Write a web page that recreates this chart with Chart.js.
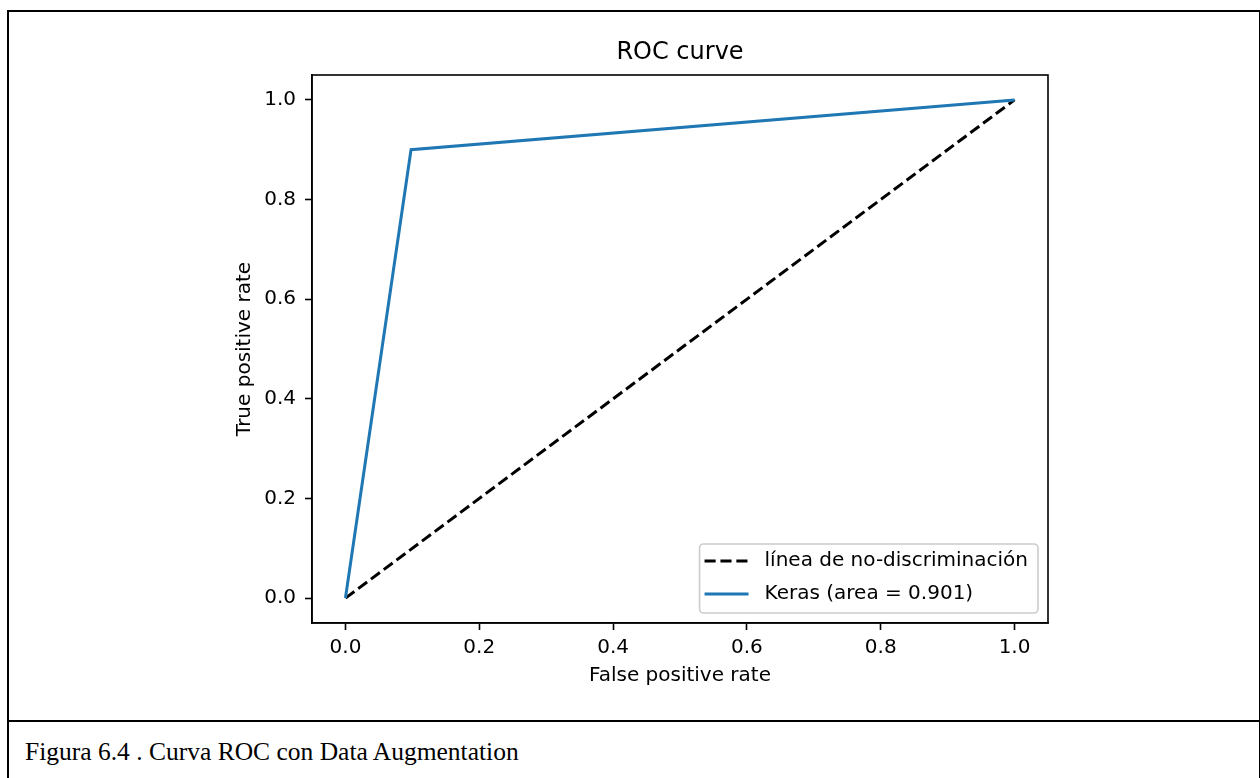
<!DOCTYPE html>
<html>
<head>
<meta charset="utf-8">
<script src="https://cdn.jsdelivr.net/npm/chart.js@4.4.0/dist/chart.umd.min.js"></script>
<style>
  body { margin: 0; background: #fff; width: 1260px; height: 778px; overflow: hidden; position: relative; }
  #frame { position: absolute; left: 7px; top: 10px; width: 1250px; height: 780px; border: 2px solid #000; border-bottom: none; }
  #divider { position: absolute; left: 7px; top: 720px; width: 1253px; height: 2px; background: #000; }
  #caption { position: absolute; left: 25px; top: 738.6px; font: 25.5px/25.5px "Liberation Serif", "Times New Roman", serif; color: #000; white-space: nowrap; }
  #myChart { position: absolute; left: 0; top: 0; }
</style>
</head>
<body>
<div id="frame"></div>
<div id="divider"></div>
<canvas id="myChart" width="1260" height="718"></canvas>
<div id="caption">Figura 6.4 . Curva ROC con Data Augmentation</div>
<script>
// datos de la curva ROC
var diag_fpr = [0, 1];
var diag_tpr = [0, 1];
var keras_fpr = [0, 0.098, 1];
var keras_tpr = [0, 0.9, 1];
var x_ticks = [0, 0.2, 0.4, 0.6, 0.8, 1.0];
var y_ticks = [0, 0.2, 0.4, 0.6, 0.8, 1.0];
var diag_label = "línea de no-discriminación";
var keras_label = "Keras (area = 0.901)";

function to_points(xs, ys) {
  return xs.map((x, i) => ({x: x, y: ys[i]}));
}

const FONT = '"DejaVu Sans", sans-serif';

// marco de los ejes + leyenda estilo matplotlib
const mplExtras = {
  id: 'mplExtras',
  afterDraw(chart) {
    const ctx = chart.ctx;
    const a = chart.chartArea;
    ctx.save();
    ctx.strokeStyle = '#000';
    ctx.lineWidth = 1.6;
    ctx.strokeRect(a.left, a.top, a.right - a.left, a.bottom - a.top);

    // leyenda (lower right)
    const sets = chart.data.datasets;
    ctx.font = '20px ' + FONT;
    const tw = Math.max(...sets.map(d => ctx.measureText(d.label).width));
    const w = 5 + 44 + 16 + tw + 10;
    const h = 69;
    const right = a.right - 10, bottom = a.bottom - 10;
    const left = right - w, top = bottom - h;
    ctx.beginPath();
    ctx.roundRect(left, top, w, h, 4);
    ctx.fillStyle = 'rgba(255,255,255,0.8)';
    ctx.fill();
    ctx.strokeStyle = 'rgb(204,204,204)';
    ctx.lineWidth = 1.6;
    ctx.stroke();
    sets.forEach((d, i) => {
      const cy = top + 17 + i * 33;
      ctx.beginPath();
      ctx.setLineDash(d.borderDash || []);
      ctx.strokeStyle = d.borderColor;
      ctx.lineWidth = d.borderWidth;
      ctx.moveTo(left + 5, cy);
      ctx.lineTo(left + 49, cy);
      ctx.stroke();
      ctx.setLineDash([]);
      ctx.fillStyle = '#000';
      ctx.textBaseline = 'middle';
      ctx.textAlign = 'left';
      ctx.fillText(d.label, left + 65, cy);
    });
    ctx.restore();
  }
};

function axis_common(ticks_list) {
  return {
    type: 'linear',
    min: -0.05,
    max: 1.05,
    afterBuildTicks: function(axis) {
      axis.ticks = ticks_list.map(v => ({value: v}));
    },
    ticks: {
      color: '#000',
      font: {family: FONT, size: 20},
      callback: v => v.toFixed(1)
    },
    grid: {
      display: true,
      drawOnChartArea: false,
      drawTicks: true,
      tickLength: 7,
      tickColor: '#000',
      tickWidth: 1.6
    },
    border: {display: true, color: '#000', width: 1.6}
  };
}

const xAxis = axis_common(x_ticks);
xAxis.position = 'bottom';
xAxis.ticks.padding = 6;
xAxis.ticks.maxRotation = 0;
xAxis.title = {display: true, text: 'False positive rate', color: '#000',
  font: {family: FONT, size: 20}, padding: {top: 0, bottom: 30}};
xAxis.afterFit = function(axis) { axis.height = 95; };

const yAxis = axis_common(y_ticks);
yAxis.position = 'left';
yAxis.ticks.padding = 9;
yAxis.title = {display: true, text: 'True positive rate', color: '#000',
  font: {family: FONT, size: 20}, padding: {top: 232.5, bottom: 0}};
yAxis.afterFit = function(axis) { axis.width = 312; };

const ctx = document.getElementById('myChart');
new Chart(ctx, {
  type: 'line',
  data: {
    datasets: [
      {
        label: diag_label,
        data: to_points(diag_fpr, diag_tpr),
        borderColor: '#000',
        borderWidth: 3,
        borderDash: [11.1, 4.8],
        pointRadius: 0,
        fill: false,
        order: 1
      },
      {
        label: keras_label,
        data: to_points(keras_fpr, keras_tpr),
        borderColor: '#1f77b4',
        borderWidth: 3,
        pointRadius: 0,
        fill: false,
        order: 0
      }
    ]
  },
  options: {
    responsive: false,
    animation: false,
    devicePixelRatio: 1,
    layout: {padding: {top: 38.6, left: 0, right: 212, bottom: 0}},
    scales: {x: xAxis, y: yAxis},
    plugins: {
      legend: {display: false},
      tooltip: {enabled: false},
      title: {
        display: true,
        fullSize: false,
        text: 'ROC curve',
        color: '#000',
        font: {family: FONT, size: 24, weight: 'normal'},
        padding: {top: 0, bottom: 7.6}
      }
    }
  },
  plugins: [mplExtras]
});
</script>
</body>
</html>
